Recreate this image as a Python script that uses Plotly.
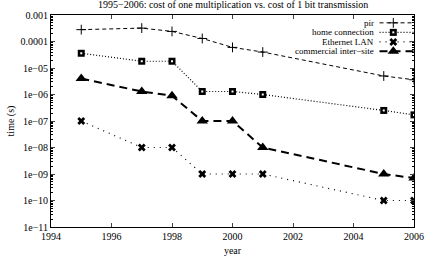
import plotly.graph_objects as go

years = [1995, 1997, 1998, 1999, 2000, 2001, 2005, 2006]
pir = [2.8e-4, 3.2e-4, 2.4e-4, 1.3e-4, 6e-5, 4e-5, 5e-6, 3.6e-6]
home = [3.6e-5, 1.8e-5, 1.8e-5, 1.3e-6, 1.3e-6, 1.0e-6, 2.5e-7, 1.7e-7]
ethernet = [1e-7, 1e-8, 1e-8, 1e-9, 1e-9, 1e-9, 1e-10, 1e-10]
commercial = [4e-6, 1.3e-6, 9e-7, 1e-7, 1e-7, 1e-8, 1e-9, 7e-10]

series_names = ["pir", "home connection", "Ethernet LAN", "commercial inter\u2212site"]
x_ticks = [1994, 1996, 1998, 2000, 2002, 2004, 2006]
y_ticks = [1e-3, 1e-4, 1e-5, 1e-6, 1e-7, 1e-8, 1e-9, 1e-10, 1e-11]
y_ticktext = ["0.001", "0.0001", "1e\u221205", "1e\u221206", "1e\u221207", "1e\u221208",
              "1e\u221209", "1e\u221210", "1e\u221211"]
title = "1995\u22122006: cost of one multiplication vs. cost of 1 bit transmission"

FONT = "Liberation Serif, Times New Roman, serif"

styles = [
    dict(line=dict(color="black", width=1, dash="4px,3px"),
         marker=dict(symbol="cross-thin-open", size=7, line=dict(color="black", width=1), color="black")),
    dict(line=dict(color="black", width=1.2, dash="1px,2px"),
         marker=dict(symbol="square", size=7, color="black")),
    dict(line=dict(color="black", width=1.2, dash="1px,5px"),
         marker=dict(symbol="x", size=7, color="black")),
    dict(line=dict(color="black", width=2, dash="8px,5px"),
         marker=dict(symbol="triangle-up", size=10, color="black")),
]

data = [pir, home, ethernet, commercial]

fig = go.Figure()
for name, ys, st in zip(series_names, data, styles):
    fig.add_trace(go.Scatter(x=years, y=ys, mode="lines+markers", name=name,
                             line=st["line"], marker=st["marker"], showlegend=False))
# white inner box for "home connection" markers
fig.add_trace(go.Scatter(x=years, y=home, mode="markers", showlegend=False,
                         marker=dict(symbol="square", size=2, color="white")))

# custom gnuplot-style legend on hidden overlay axes
leg_y = [0.963, 0.918, 0.873, 0.829]
for i, (name, st) in enumerate(zip(series_names, styles)):
    yy = leg_y[i]
    fig.add_trace(go.Scatter(x=[0.905, 1.0], y=[yy, yy], mode="lines", line=st["line"],
                             xaxis="x2", yaxis="y2", showlegend=False, hoverinfo="skip"))
    fig.add_trace(go.Scatter(x=[0.943], y=[yy], mode="markers", marker=st["marker"],
                             xaxis="x2", yaxis="y2", showlegend=False, hoverinfo="skip"))
    if i == 1:
        fig.add_trace(go.Scatter(x=[0.943], y=[yy], mode="markers",
                                 marker=dict(symbol="square", size=2, color="white"),
                                 xaxis="x2", yaxis="y2", showlegend=False, hoverinfo="skip"))
    fig.add_annotation(x=0.892, y=yy, xref="paper", yref="paper", text=name,
                       showarrow=False, xanchor="right", yanchor="middle", borderpad=0,
                       font=dict(family=FONT, size=9, color="black"))

minor_vals = [m * 10.0 ** e for e in range(-11, -3) for m in range(2, 10)]

fig.update_layout(
    width=433, height=263,
    margin=dict(l=50, r=9, t=14, b=32),
    paper_bgcolor="white", plot_bgcolor="white",
    font=dict(family=FONT, size=10, color="black"),
    xaxis=dict(range=[1994, 2006], tickvals=x_ticks, ticks="inside", ticklen=4,
               showline=True, linecolor="black", linewidth=1, mirror="ticks",
               showgrid=False, zeroline=False,
               title=dict(text="year", font=dict(family=FONT, size=10), standoff=5),
               tickfont=dict(family=FONT, size=10)),
    yaxis=dict(type="log", range=[-11, -3], tickvals=y_ticks, ticktext=y_ticktext,
               ticks="inside", ticklen=4, showline=True, linecolor="black", linewidth=1,
               mirror="ticks", showgrid=False, zeroline=False,
               minor=dict(tickmode="array", tickvals=minor_vals, ticks="inside", ticklen=2,
                          tickcolor="black", showgrid=False),
               title=dict(text="time (s)", font=dict(family=FONT, size=10), standoff=4),
               tickfont=dict(family=FONT, size=10)),
    xaxis2=dict(range=[0, 1], overlaying="x", visible=False, fixedrange=True),
    yaxis2=dict(range=[0, 1], overlaying="y", visible=False, fixedrange=True),
    showlegend=False,
)
fig.add_annotation(x=0.5, y=1, xref="paper", yref="paper", text=title, showarrow=False,
                   xanchor="center", yanchor="middle", yshift=10.5,
                   font=dict(family=FONT, size=10, color="black"))

fig.write_html("out.html")
